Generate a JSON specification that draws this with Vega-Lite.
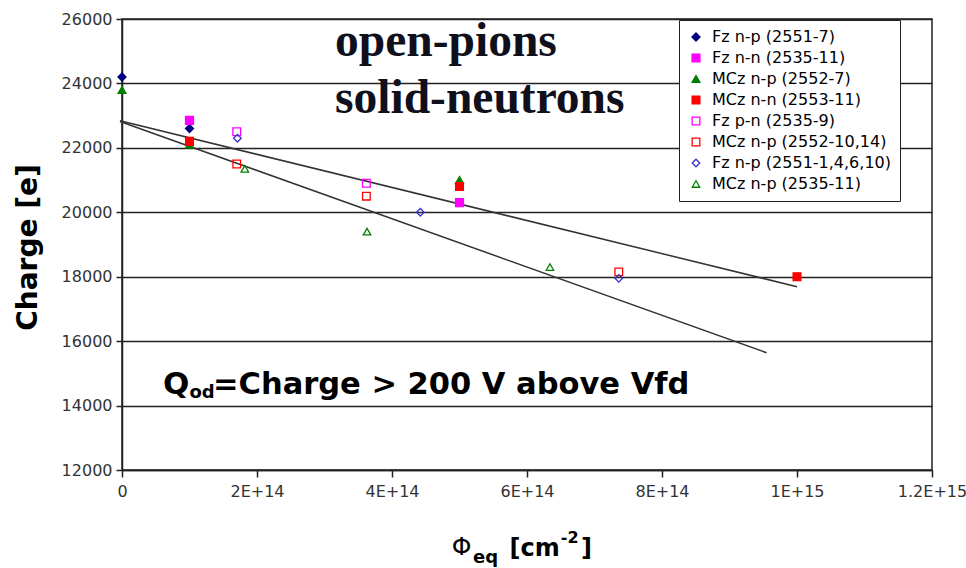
{
  "$schema": "https://vega.github.io/schema/vega-lite/v6.json",
  "width": 810,
  "height": 451,
  "autosize": {"type": "none"},
  "padding": {"left": 122, "top": 19, "right": 34, "bottom": 98},
  "background": "white",
  "config": {
    "view": {"stroke": "#222", "strokeWidth": 1.5},
    "font": "DejaVu Sans",
    "legend": {
      "orient": "none",
      "legendX": 557,
      "legendY": 1,
      "strokeColor": "#222",
      "fillColor": "white",
      "padding": 9,
      "labelFont": "DejaVu Sans",
      "labelFontSize": 16,
      "labelColor": "black",
      "rowPadding": 5,
      "symbolStrokeWidth": 1.3,
      "labelOffset": 8,
      "labelLimit": 300
    }
  },
  "datasets": {
    "points": [
      {"series": "Fz n-p (2551-7)", "phi": 0, "charge": 24200},
      {"series": "Fz n-p (2551-7)", "phi": 1e14, "charge": 22600},
      {"series": "Fz n-n (2535-11)", "phi": 1e14, "charge": 22850},
      {"series": "Fz n-n (2535-11)", "phi": 5e14, "charge": 20300},
      {"series": "MCz n-p (2552-7)", "phi": 0, "charge": 23800},
      {"series": "MCz n-p (2552-7)", "phi": 1e14, "charge": 22100},
      {"series": "MCz n-p (2552-7)", "phi": 5e14, "charge": 21000},
      {"series": "MCz n-n (2553-11)", "phi": 1e14, "charge": 22200},
      {"series": "MCz n-n (2553-11)", "phi": 5e14, "charge": 20800},
      {"series": "MCz n-n (2553-11)", "phi": 1e15, "charge": 18000},
      {"series": "Fz p-n (2535-9)", "phi": 1.7e14, "charge": 22500},
      {"series": "Fz p-n (2535-9)", "phi": 3.62e14, "charge": 20900},
      {"series": "MCz n-p (2552-10,14)", "phi": 1.7e14, "charge": 21500},
      {"series": "MCz n-p (2552-10,14)", "phi": 3.62e14, "charge": 20500},
      {"series": "MCz n-p (2552-10,14)", "phi": 7.36e14, "charge": 18150},
      {"series": "Fz n-p (2551-1,4,6,10)", "phi": 1.71e14, "charge": 22300},
      {"series": "Fz n-p (2551-1,4,6,10)", "phi": 4.42e14, "charge": 20000},
      {"series": "Fz n-p (2551-1,4,6,10)", "phi": 7.36e14, "charge": 17950},
      {"series": "MCz n-p (2535-11)", "phi": 1.82e14, "charge": 21350},
      {"series": "MCz n-p (2535-11)", "phi": 3.63e14, "charge": 19400},
      {"series": "MCz n-p (2535-11)", "phi": 6.34e14, "charge": 18300}
    ],
    "fits": [
      {"fit": "pions", "phi": -3e12, "charge": 22840},
      {"fit": "pions", "phi": 1e15, "charge": 17690},
      {"fit": "neutrons", "phi": -3e12, "charge": 22820},
      {"fit": "neutrons", "phi": 9.55e14, "charge": 15640}
    ],
    "one": [{}]
  },
  "layer": [
    {
      "data": {"name": "fits"},
      "mark": {"type": "line", "color": "#333", "strokeWidth": 1.5},
      "encoding": {
        "x": {
          "field": "phi",
          "type": "quantitative",
          "scale": {"domain": [0, 1.2e15], "nice": false, "zero": false},
          "axis": {
            "values": [0, 2e14, 4e14, 6e14, 8e14, 1e15, 1.2e15],
            "labelExpr": "datum.value == 0 ? '0' : replace(format(datum.value, '.2~e'), 'e+', 'E+')",
            "grid": false,
            "domainColor": "#222",
            "domainWidth": 1.5,
            "tickColor": "#222",
            "tickWidth": 1.5,
            "tickSize": 7,
            "labelFont": "DejaVu Sans",
            "labelFontSize": 16,
            "labelColor": "#333",
            "labelPadding": 6,
            "labelFlush": false,
            "labelOverlap": false,
            "title": null
          }
        },
        "y": {
          "field": "charge",
          "type": "quantitative",
          "scale": {"domain": [12000, 26000], "nice": false, "zero": false},
          "axis": {
            "values": [12000, 14000, 16000, 18000, 20000, 22000, 24000, 26000],
            "format": "d",
            "grid": true,
            "gridColor": "#222",
            "gridWidth": 1.5,
            "domainColor": "#222",
            "domainWidth": 1.5,
            "tickColor": "#222",
            "tickWidth": 1.5,
            "tickSize": 6,
            "labelFont": "DejaVu Sans",
            "labelFontSize": 16,
            "labelColor": "#333",
            "labelPadding": 4,
            "labelOverlap": false,
            "labelFlush": false,
            "title": "Charge [e]",
            "titleFont": "DejaVu Sans",
            "titleFontSize": 28,
            "titleFontWeight": "bold",
            "titleColor": "black",
            "titleAngle": -90,
            "titleX": -94,
            "titleY": 228,
            "titleAlign": "center",
            "titleBaseline": "middle"
          }
        },
        "detail": {"field": "fit", "type": "nominal"}
      }
    },
    {
      "data": {"name": "points"},
      "mark": {"type": "point", "filled": true, "strokeWidth": 1.3, "opacity": 1},
      "encoding": {
        "x": {"field": "phi", "type": "quantitative"},
        "y": {"field": "charge", "type": "quantitative"},
        "shape": {
          "field": "series",
          "type": "nominal",
          "scale": {
            "domain": ["Fz n-p (2551-7)", "Fz n-n (2535-11)", "MCz n-p (2552-7)", "MCz n-n (2553-11)", "Fz p-n (2535-9)", "MCz n-p (2552-10,14)", "Fz n-p (2551-1,4,6,10)", "MCz n-p (2535-11)"],
            "range": ["diamond", "square", "triangle-up", "square", "square", "square", "diamond", "triangle-up"]
          },
          "legend": {"title": null}
        },
        "size": {
          "field": "series",
          "type": "nominal",
          "scale": {
            "domain": ["Fz n-p (2551-7)", "Fz n-n (2535-11)", "MCz n-p (2552-7)", "MCz n-n (2553-11)", "Fz p-n (2535-9)", "MCz n-p (2552-10,14)", "Fz n-p (2551-1,4,6,10)", "MCz n-p (2535-11)"],
            "range": [64, 56, 180, 56, 110, 110, 115, 185]
          },
          "legend": {"title": null}
        },
        "fill": {
          "field": "series",
          "type": "nominal",
          "scale": {
            "domain": ["Fz n-p (2551-7)", "Fz n-n (2535-11)", "MCz n-p (2552-7)", "MCz n-n (2553-11)", "Fz p-n (2535-9)", "MCz n-p (2552-10,14)", "Fz n-p (2551-1,4,6,10)", "MCz n-p (2535-11)"],
            "range": ["#000080", "#FF00FF", "#008000", "#FF0000", "transparent", "transparent", "transparent", "transparent"]
          },
          "legend": {"title": null}
        },
        "stroke": {
          "field": "series",
          "type": "nominal",
          "scale": {
            "domain": ["Fz n-p (2551-7)", "Fz n-n (2535-11)", "MCz n-p (2552-7)", "MCz n-n (2553-11)", "Fz p-n (2535-9)", "MCz n-p (2552-10,14)", "Fz n-p (2551-1,4,6,10)", "MCz n-p (2535-11)"],
            "range": ["#000080", "#FF00FF", "#008000", "#FF0000", "#FF00FF", "#FF0000", "#3333CC", "#008000"]
          },
          "legend": {"title": null}
        }
      }
    },
    {
      "data": {"name": "one"},
      "mark": {"type": "text", "text": "open-pions", "font": "Liberation Serif", "fontWeight": "bold", "fontSize": 47.5, "align": "left", "baseline": "alphabetic", "color": "#10101c"},
      "encoding": {"x": {"datum": 3.156e14, "type": "quantitative"}, "y": {"datum": 24851, "type": "quantitative"}}
    },
    {
      "data": {"name": "one"},
      "mark": {"type": "text", "text": "solid-neutrons", "font": "Liberation Serif", "fontWeight": "bold", "fontSize": 47.5, "align": "left", "baseline": "alphabetic", "color": "#10101c"},
      "encoding": {"x": {"datum": 3.156e14, "type": "quantitative"}, "y": {"datum": 23091, "type": "quantitative"}}
    },
    {
      "data": {"name": "one"},
      "mark": {"type": "text", "text": "Q", "font": "DejaVu Sans", "fontWeight": "bold", "fontSize": 31, "align": "left", "baseline": "alphabetic", "color": "black"},
      "encoding": {"x": {"datum": 6.07e13, "type": "quantitative"}, "y": {"datum": 14359, "type": "quantitative"}}
    },
    {
      "data": {"name": "one"},
      "mark": {"type": "text", "text": "od", "font": "DejaVu Sans", "fontWeight": "bold", "fontSize": 18, "align": "left", "baseline": "alphabetic", "color": "black"},
      "encoding": {"x": {"datum": 1.0e14, "type": "quantitative"}, "y": {"datum": 14235, "type": "quantitative"}}
    },
    {
      "data": {"name": "one"},
      "mark": {"type": "text", "text": "=Charge > 200 V above Vfd", "font": "DejaVu Sans", "fontWeight": "bold", "fontSize": 30.5, "align": "left", "baseline": "alphabetic", "color": "black"},
      "encoding": {"x": {"datum": 1.348e14, "type": "quantitative"}, "y": {"datum": 14359, "type": "quantitative"}}
    },
    {
      "data": {"name": "one"},
      "mark": {"type": "text", "text": "Φ", "font": "DejaVu Sans", "fontSize": 25, "align": "left", "baseline": "alphabetic", "color": "black"},
      "encoding": {"x": {"datum": 4.884e14, "type": "quantitative"}, "y": {"datum": 9362, "type": "quantitative"}}
    },
    {
      "data": {"name": "one"},
      "mark": {"type": "text", "text": "eq", "font": "DejaVu Sans", "fontWeight": "bold", "fontSize": 18, "align": "left", "baseline": "alphabetic", "color": "black"},
      "encoding": {"x": {"datum": 5.2e14, "type": "quantitative"}, "y": {"datum": 9113, "type": "quantitative"}}
    },
    {
      "data": {"name": "one"},
      "mark": {"type": "text", "text": "[cm", "font": "DejaVu Sans", "fontWeight": "bold", "fontSize": 24, "align": "left", "baseline": "alphabetic", "color": "black"},
      "encoding": {"x": {"datum": 5.74e14, "type": "quantitative"}, "y": {"datum": 9330, "type": "quantitative"}}
    },
    {
      "data": {"name": "one"},
      "mark": {"type": "text", "text": "-2", "font": "DejaVu Sans", "fontWeight": "bold", "fontSize": 16, "align": "left", "baseline": "alphabetic", "color": "black"},
      "encoding": {"x": {"datum": 6.5e14, "type": "quantitative"}, "y": {"datum": 9734, "type": "quantitative"}}
    },
    {
      "data": {"name": "one"},
      "mark": {"type": "text", "text": "]", "font": "DejaVu Sans", "fontWeight": "bold", "fontSize": 24, "align": "left", "baseline": "alphabetic", "color": "black"},
      "encoding": {"x": {"datum": 6.8e14, "type": "quantitative"}, "y": {"datum": 9330, "type": "quantitative"}}
    }
  ]
}
